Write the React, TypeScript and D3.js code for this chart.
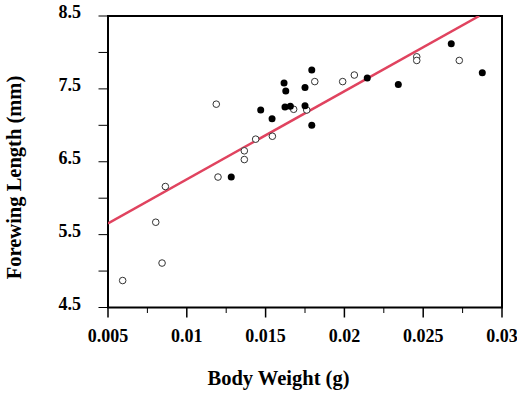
import { useEffect, useRef } from 'react'
import * as d3 from 'd3'

// open circles: body weight (g), forewing length (mm)
const OPEN_X = [0.00593, 0.00803, 0.00843, 0.00864, 0.01198, 0.01187, 0.01678, 0.01437, 0.01543, 0.01365, 0.01365, 0.01812, 0.01761, 0.01989, 0.02063, 0.02459, 0.02459, 0.02729]
const OPEN_Y = [4.87, 5.67, 5.11, 6.16, 6.29, 7.29, 7.22, 6.81, 6.85, 6.65, 6.53, 7.60, 7.21, 7.60, 7.69, 7.94, 7.89, 7.89]

// filled circles
const FILLED_X = [0.01282, 0.01469, 0.01541, 0.01617, 0.01628, 0.01623, 0.01657, 0.01793, 0.0175, 0.0175, 0.01793, 0.02145, 0.02342, 0.02678, 0.02875]
const FILLED_Y = [6.29, 7.21, 7.09, 7.58, 7.47, 7.25, 7.26, 7.76, 7.52, 7.27, 7.00, 7.65, 7.56, 8.12, 7.72]

const X_TICKS = [0.005, 0.01, 0.015, 0.02, 0.025, 0.03]
const X_MINOR = [0.0075, 0.0125, 0.0175, 0.0225, 0.0275]
const Y_TICKS = [4.5, 5.5, 6.5, 7.5, 8.5]
const Y_MINOR = [5, 6, 7, 8]

// regression line: y = a + b * x
const FIT_A = 5.051
const FIT_B = 120.8

const FONT = '"Liberation Serif", "Times New Roman", serif'

export default function App() {
  const svgRef = useRef(null)

  useEffect(() => {
    const W = 517, H = 407
    const m = { left: 108, right: 502, top: 16, bottom: 307.5 }

    const svg = d3.select(svgRef.current)
    svg.selectAll('*').remove()
    svg.attr('width', W).attr('height', H)

    const x = d3.scaleLinear().domain([0.005, 0.03]).range([m.left, m.right])
    const y = d3.scaleLinear().domain([4.5, 8.5]).range([m.bottom, m.top])

    svg.append('defs').append('clipPath').attr('id', 'plotclip')
      .append('rect')
      .attr('x', m.left).attr('y', m.top)
      .attr('width', m.right - m.left).attr('height', m.bottom - m.top)

    // Frame
    svg.append('rect')
      .attr('x', m.left).attr('y', m.top)
      .attr('width', m.right - m.left).attr('height', m.bottom - m.top)
      .attr('fill', 'none').attr('stroke', '#000').attr('stroke-width', 2)

    // X ticks
    const xt = svg.append('g')
    xt.selectAll('line.maj').data(X_TICKS).enter().append('line')
      .attr('x1', d => x(d)).attr('x2', d => x(d))
      .attr('y1', m.bottom).attr('y2', m.bottom + 10)
      .attr('stroke', '#000').attr('stroke-width', 1.5)
    xt.selectAll('line.min').data(X_MINOR).enter().append('line')
      .attr('x1', d => x(d)).attr('x2', d => x(d))
      .attr('y1', m.bottom).attr('y2', m.bottom + 5.5)
      .attr('stroke', '#000').attr('stroke-width', 1)
    xt.selectAll('text').data(X_TICKS).enter().append('text')
      .attr('x', d => x(d)).attr('y', 341.5)
      .attr('text-anchor', 'middle')
      .attr('font-family', FONT).attr('font-weight', 'bold').attr('font-size', '18px')
      .text(d => String(d))

    // Y ticks
    const yt = svg.append('g')
    yt.selectAll('line').data([...Y_TICKS, ...Y_MINOR]).enter().append('line')
      .attr('x1', m.left - 9.5).attr('x2', m.left)
      .attr('y1', d => y(d)).attr('y2', d => y(d))
      .attr('stroke', '#000').attr('stroke-width', 1)
    yt.selectAll('text').data(Y_TICKS).enter().append('text')
      .attr('x', 81).attr('y', d => y(d) + 2.3)
      .attr('text-anchor', 'end')
      .attr('font-family', FONT).attr('font-weight', 'bold').attr('font-size', '18px')
      .text(d => d.toFixed(1))

    // Regression line
    const x0 = 0.005
    const x1 = (8.5 - FIT_A) / FIT_B
    svg.append('line')
      .attr('clip-path', 'url(#plotclip)')
      .attr('x1', x(x0)).attr('y1', y(FIT_A + FIT_B * x0))
      .attr('x2', x(x1)).attr('y2', y(FIT_A + FIT_B * x1))
      .attr('stroke', '#E0435F').attr('stroke-width', 2.5)

    // Points
    const open = OPEN_X.map((v, i) => ({ x: v, y: OPEN_Y[i] }))
    const filled = FILLED_X.map((v, i) => ({ x: v, y: FILLED_Y[i] }))

    svg.append('g').selectAll('circle').data(open).enter().append('circle')
      .attr('cx', d => x(d.x)).attr('cy', d => y(d.y)).attr('r', 3.3)
      .attr('fill', '#fff').attr('stroke', '#333').attr('stroke-width', 1)

    svg.append('g').selectAll('circle').data(filled).enter().append('circle')
      .attr('cx', d => x(d.x)).attr('cy', d => y(d.y)).attr('r', 3.5)
      .attr('fill', '#000')

    // Axis titles
    svg.append('text')
      .attr('x', 278.5).attr('y', 385)
      .attr('text-anchor', 'middle')
      .attr('font-family', FONT).attr('font-weight', 'bold').attr('font-size', '20.5px')
      .text('Body Weight (g)')

    svg.append('text')
      .attr('transform', 'translate(21,177.5) rotate(-90)')
      .attr('text-anchor', 'middle')
      .attr('font-family', FONT).attr('font-weight', 'bold').attr('font-size', '20.5px')
      .text('Forewing Length (mm)')
  }, [])

  return (
    <div style={{ position: 'fixed', left: 0, top: 0, background: '#fff' }}>
      <svg ref={svgRef} style={{ display: 'block' }} />
    </div>
  )
}
